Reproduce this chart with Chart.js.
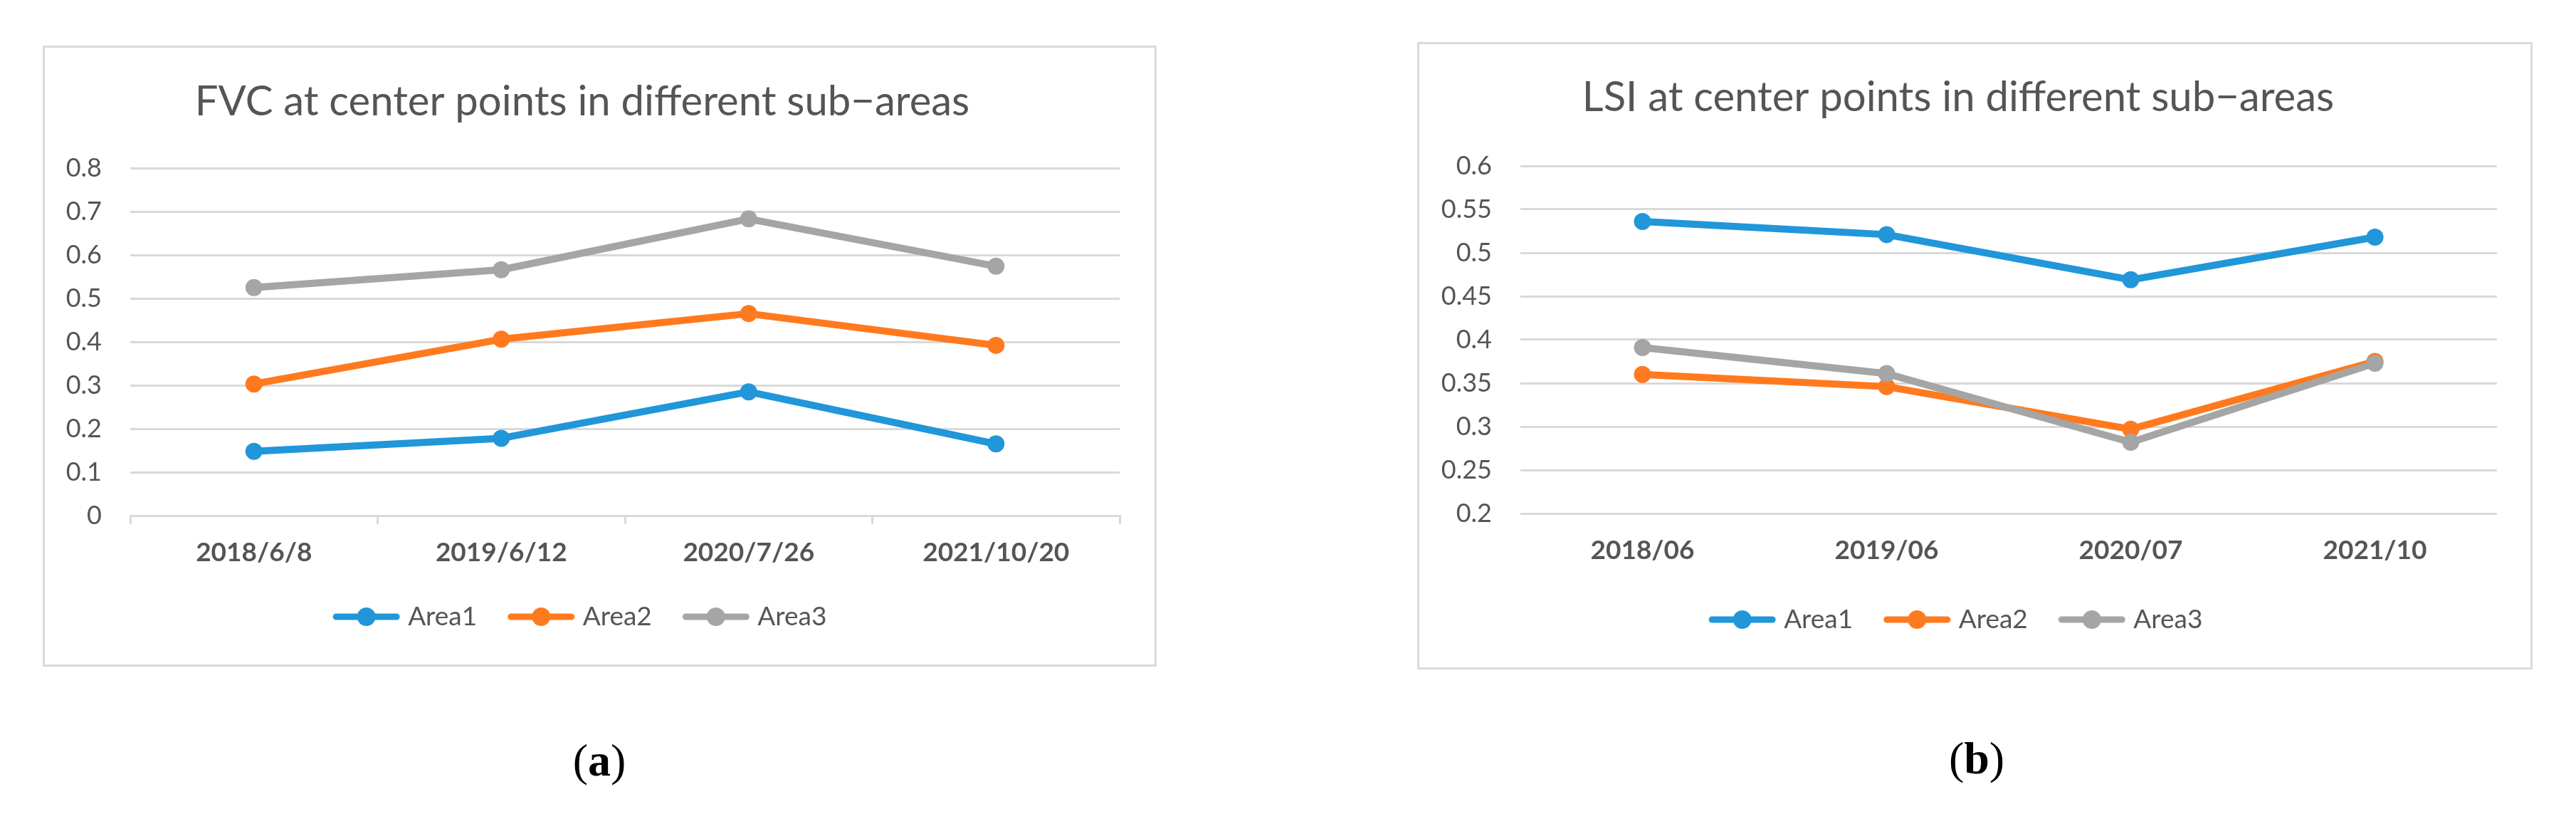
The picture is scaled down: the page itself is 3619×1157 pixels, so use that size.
<!DOCTYPE html>
<html>
<head>
<meta charset="utf-8">
<script src="https://cdn.jsdelivr.net/npm/chart.js@4.4.1/dist/chart.umd.min.js"></script>
<style>
    html, body { margin: 0; padding: 0; background: #fff; }
    body { width: 3619px; height: 1157px; position: relative; overflow: hidden; }
    .frame { position: absolute; border: 3px solid #dadada; box-sizing: border-box; }
    canvas { position: absolute; }
    .caption { position: absolute; width: 200px; text-align: center; font-family: 'Liberation Serif', serif; font-size: 64px; line-height: 80px; color: #000; }
</style>
</head>
<body>
<div class="frame" style="left:60px; top:64px; width:1565px; height:872px;"></div>
<canvas id="fvc-chart" width="1559" height="866" style="left:63px; top:67px;"></canvas>
<div class="frame" style="left:1991px; top:59px; width:1567px; height:881px;"></div>
<canvas id="lsi-chart" width="1561" height="875" style="left:1994px; top:62px;"></canvas>
<div class="caption" style="left:742px; top:1028px;">(<b>a</b>)</div>
<div class="caption" style="left:2677px; top:1025px;">(<b>b</b>)</div>
<script>
const seriesNames = ['Area1', 'Area2', 'Area3'];
const seriesColors = ['#2196d9', '#ff7a1e', '#a5a5a5'];

const fvcDates = ['2018/6/8', '2019/6/12', '2020/7/26', '2021/10/20'];
const fvcArea1 = [0.148, 0.178, 0.285, 0.165];
const fvcArea2 = [0.303, 0.406, 0.465, 0.392];
const fvcArea3 = [0.525, 0.566, 0.683, 0.574];
const fvcTickValues = [0, 0.1, 0.2, 0.3, 0.4, 0.5, 0.6, 0.7, 0.8];
const fvcTickLabels = ['0', '0.1', '0.2', '0.3', '0.4', '0.5', '0.6', '0.7', '0.8'];

const lsiDates = ['2018/06', '2019/06', '2020/07', '2021/10'];
const lsiArea1 = [0.536, 0.521, 0.469, 0.518];
const lsiArea2 = [0.360, 0.346, 0.297, 0.375];
const lsiArea3 = [0.391, 0.361, 0.282, 0.373];
const lsiTickValues = [0.2, 0.25, 0.3, 0.35, 0.4, 0.45, 0.5, 0.55, 0.6];
const lsiTickLabels = ['0.2', '0.25', '0.3', '0.35', '0.4', '0.45', '0.5', '0.55', '0.6'];

const textColor = '#555555';
const gridColor = '#d9d9d9';
const fontName = 'Lato, "Open Sans", sans-serif';

// little line + dot picture for each legend entry, like Excel draws it
function legendIcon(color) {
    const c = document.createElement('canvas');
    c.width = 95;
    c.height = 28;
    const ctx = c.getContext('2d');
    ctx.strokeStyle = color;
    ctx.lineWidth = 9;
    ctx.lineCap = 'round';
    ctx.beginPath();
    ctx.moveTo(5, 14);
    ctx.lineTo(90, 14);
    ctx.stroke();
    ctx.fillStyle = color;
    ctx.beginPath();
    ctx.arc(47.5, 14, 13, 0, Math.PI * 2);
    ctx.fill();
    return c;
}
const legendIcons = seriesColors.map(legendIcon);

function makeDatasets(values) {
    return values.map((data, i) => ({
        label: seriesNames[i],
        data,
        borderColor: seriesColors[i],
        backgroundColor: seriesColors[i],
        borderWidth: 10,
        borderJoinStyle: 'round',
        borderCapStyle: 'round',
        pointRadius: 12,
        pointBorderWidth: 0,
        pointBackgroundColor: seriesColors[i],
        tension: 0,
        order: values.length - i, // later series drawn on top
    }));
}

function makeChart(el, cfg) {
    return new Chart(el.getContext('2d'), {
        type: 'line',
        data: {
            labels: cfg.labels,
            datasets: makeDatasets(cfg.series),
        },
        options: {
            responsive: false,
            devicePixelRatio: 1,
            animation: false,
            layout: { padding: { left: 0, right: cfg.padRight, top: 0, bottom: cfg.padBottom } },
            plugins: {
                tooltip: { enabled: false },
                title: {
                    display: true,
                    text: cfg.title,
                    color: textColor,
                    font: { family: fontName, size: 58, weight: 'normal', lineHeight: 1.2 },
                    padding: { top: cfg.titleTop, bottom: cfg.titleBottom },
                },
                legend: {
                    position: 'bottom',
                    labels: {
                        usePointStyle: true,
                        pointStyleWidth: 80,
                        padding: 50,
                        color: textColor,
                        font: { family: fontName, size: 37 },
                        generateLabels: chart => chart.data.datasets.map((ds, i) => ({
                            text: ds.label,
                            pointStyle: legendIcons[i],
                            fillStyle: ds.borderColor,
                            strokeStyle: ds.borderColor,
                            lineWidth: 0,
                            fontColor: textColor,
                            hidden: false,
                            datasetIndex: i,
                        })),
                    },
                },
            },
            scales: {
                x: {
                    offset: true,
                    grid: {
                        display: cfg.xTicks,
                        offset: true,
                        drawOnChartArea: false,
                        drawTicks: cfg.xTicks,
                        tickLength: 12,
                        color: gridColor,
                        lineWidth: 3,
                    },
                    border: { display: cfg.xTicks, color: gridColor, width: 3 },
                    ticks: {
                        color: textColor,
                        padding: cfg.xTicks ? 18 : 30,
                        maxRotation: 0,
                        font: { family: fontName, size: 37, weight: 'bold' },
                    },
                    afterFit: scale => { scale.height = cfg.xHeight; },
                },
                y: {
                    min: cfg.tickValues[0],
                    max: cfg.tickValues[cfg.tickValues.length - 1],
                    afterBuildTicks: scale => { scale.ticks = cfg.tickValues.map(v => ({ value: v })); },
                    grid: { color: gridColor, lineWidth: 3, drawTicks: false },
                    border: { display: false },
                    ticks: {
                        color: textColor,
                        padding: 40,
                        font: { family: fontName, size: 36 },
                        callback: (value, index) => cfg.tickLabels[index],
                    },
                    afterFit: scale => { scale.width = cfg.yWidth; },
                },
            },
        },
    });
}

makeChart(document.getElementById('fvc-chart'), {
    title: 'FVC at center points in different sub\u2212areas',
    labels: fvcDates,
    series: [fvcArea1, fvcArea2, fvcArea3],
    tickValues: fvcTickValues,
    tickLabels: fvcTickLabels,
    padRight: 49,
    padBottom: 38.5,
    titleTop: 41.2,
    titleBottom: 58.2,
    xHeight: 73.5,
    yWidth: 120,
    xTicks: true,
});

makeChart(document.getElementById('lsi-chart'), {
    title: 'LSI at center points in different sub\u2212areas',
    labels: lsiDates,
    series: [lsiArea1, lsiArea2, lsiArea3],
    tickValues: lsiTickValues,
    tickLabels: lsiTickLabels,
    padRight: 47,
    padBottom: 38.5,
    titleTop: 40.2,
    titleBottom: 61.2,
    xHeight: 80.5,
    yWidth: 142,
    xTicks: false,
});
</script>
</body>
</html>
